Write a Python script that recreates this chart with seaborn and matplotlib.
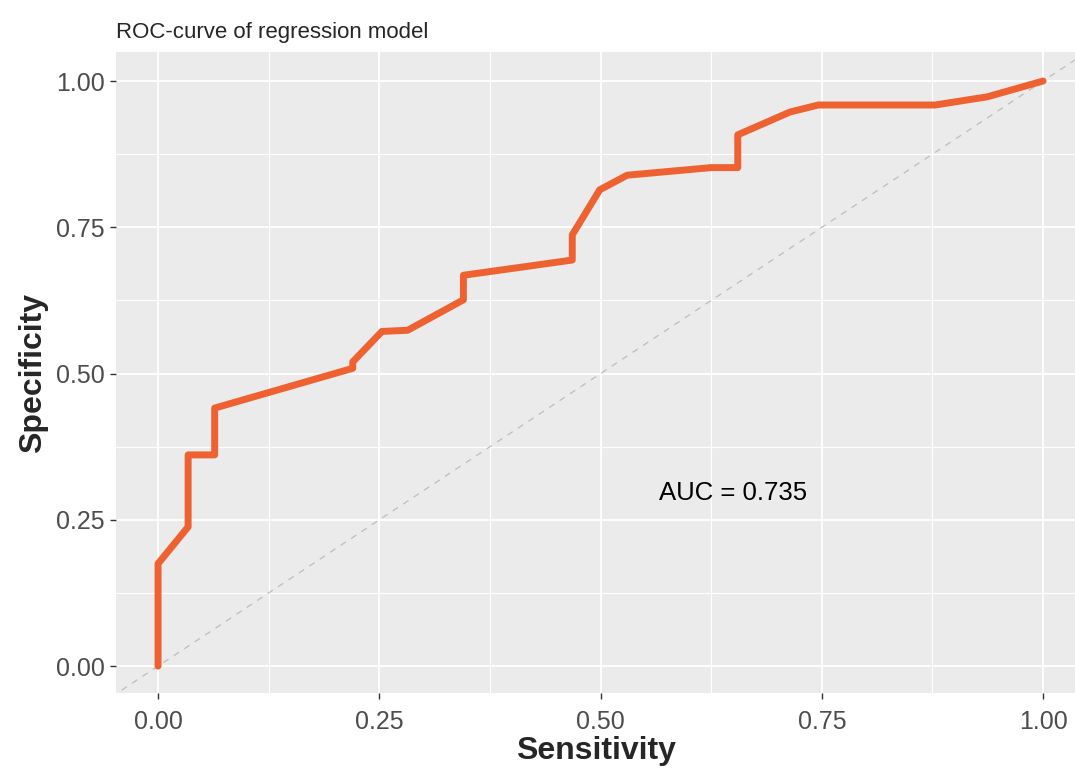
import matplotlib
matplotlib.use('Agg')
import matplotlib.pyplot as plt
import pandas as pd
import seaborn as sns

# ROC points
sensitivity = [0.000, 0.000, 0.034, 0.034, 0.064, 0.064, 0.220, 0.220, 0.253, 0.282,
               0.345, 0.345, 0.468, 0.468, 0.499, 0.530, 0.625, 0.655, 0.655, 0.714,
               0.746, 0.878, 0.937, 1.000]
specificity = [0.000, 0.175, 0.238, 0.361, 0.361, 0.441, 0.509, 0.520, 0.572, 0.574,
               0.626, 0.668, 0.694, 0.737, 0.814, 0.839, 0.852, 0.852, 0.908, 0.947,
               0.959, 0.959, 0.973, 1.000]
ticks = [0.00, 0.25, 0.50, 0.75, 1.00]
minor_ticks = [0.125, 0.375, 0.625, 0.875]
auc_label = 'AUC = 0.735'

df = pd.DataFrame({'sens': sensitivity, 'spec': specificity})

sns.set_style('darkgrid', {'axes.facecolor': '#EBEBEB', 'grid.color': 'white'})
plt.rcParams['font.family'] = ['Liberation Sans', 'DejaVu Sans']

fig = plt.figure(figsize=(10.75, 7.69), dpi=100)
ax = fig.add_axes([0.1079, 0.0988, 0.8921, 0.8336])

# reference diagonal
ax.plot([-0.1, 1.1], [-0.1, 1.1], color='#BDBDBD', linestyle=(0, (5, 5)), linewidth=0.9, zorder=1)

sns.lineplot(data=df, x='sens', y='spec', sort=False, estimator=None,
             color='#EE6231', linewidth=5, ax=ax, zorder=3)

ax.text(0.65, 0.296, auc_label, fontsize=18.5, ha='center', va='center', color='black')

ax.set_xlim(-0.0475, 1.036)
ax.set_ylim(-0.046, 1.0496)
ax.set_xticks(ticks)
ax.set_yticks(ticks)
ax.set_xticks(minor_ticks, minor=True)
ax.set_yticks(minor_ticks, minor=True)
ax.set_xticklabels([f'{t:.2f}' for t in ticks])
ax.set_yticklabels([f'{t:.2f}' for t in ticks])
ax.grid(which='major', color='white', linewidth=1.3)
ax.grid(which='minor', color='white', linewidth=0.8)
ax.tick_params(which='major', length=4, width=1, color='#333333', labelsize=18,
               labelcolor='#4D4D4D', bottom=True, left=True, pad=4)
ax.tick_params(axis='x', which='major', pad=8)
ax.tick_params(which='minor', length=0)
for s in ax.spines.values():
    s.set_visible(False)

ax.set_xlabel('Sensitivity', fontsize=23, fontweight='bold', labelpad=2)
ax.set_ylabel('Specificity', fontsize=23, fontweight='bold', labelpad=6)
ax.set_title('ROC-curve of regression model', fontsize=16, loc='left', pad=10)

fig.savefig('out.png', dpi=100)
